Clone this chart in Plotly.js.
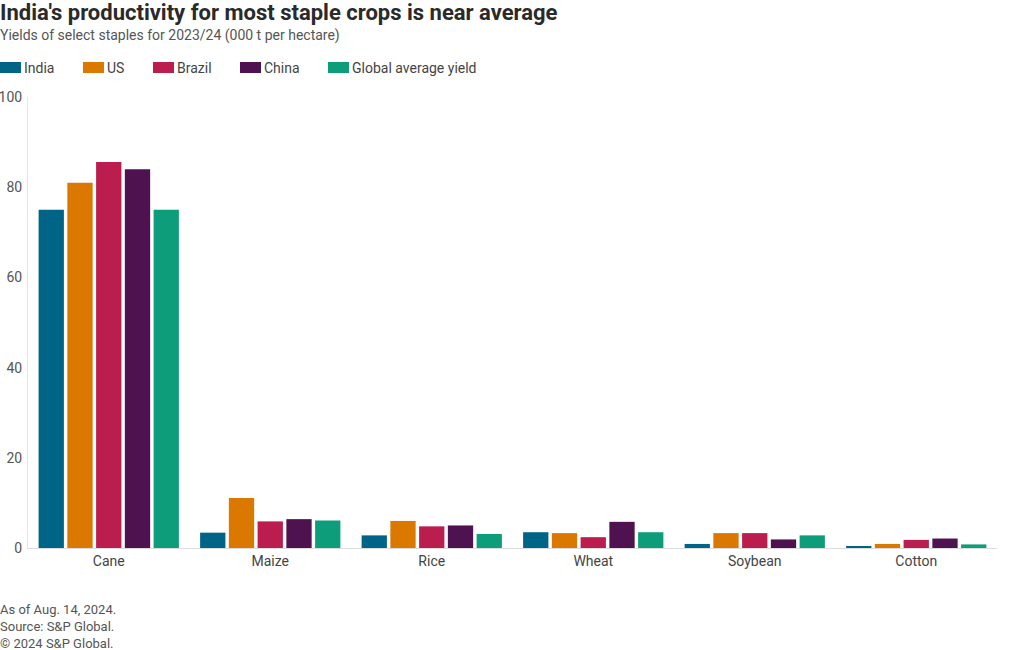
<!DOCTYPE html>
<html>
<head>
<meta charset="utf-8">
<script src="https://cdn.plot.ly/plotly-3.0.1.min.js"></script>
<style>html,body{margin:0;padding:0;background:#fff;}#chart{width:1020px;height:650px;}</style>
</head>
<body>
<div id="chart"></div>
<script>
const crops = ["Cane", "Maize", "Rice", "Wheat", "Soybean", "Cotton"];
const india = [75, 3.4, 2.8, 3.5, 0.9, 0.4];
const us = [81, 11.1, 6.0, 3.3, 3.3, 0.9];
const brazil = [85.6, 5.9, 4.8, 2.4, 3.3, 1.8];
const china = [84.0, 6.4, 5.0, 5.8, 1.9, 2.1];
const globalAvg = [75, 6.1, 3.1, 3.5, 2.8, 0.8];
const seriesNames = ["India", "US", "Brazil", "China", "Global average yield"];
const yTicks = [0, 20, 40, 60, 80, 100];

const colors = ["#006486", "#db7800", "#bb1d4e", "#4f1250", "#0e9d7a"];
const seriesData = [india, us, brazil, china, globalAvg];

const traces = seriesData.map((vals, i) => ({
  type: "bar",
  name: seriesNames[i],
  x: crops,
  y: vals,
  marker: {color: colors[i], line: {width: 0}},
  hoverinfo: "x+y+name",
  showlegend: false
}));

const font = "Roboto, 'Liberation Sans', sans-serif";
const ML = 28, MT = 97, PW = 969, PH = 451;
const px2x = p => (p - ML) / PW;
const px2y = p => (MT + PH - p) / PH;

// custom legend layout (pixel positions of each swatch's left edge)
const legendSwatchLeft = [0, 83, 153, 240, 328];
const legendY = 67.5;

const legendShapes = seriesNames.map((n, i) => ({
  type: "rect", xref: "paper", yref: "paper",
  x0: px2x(legendSwatchLeft[i]), x1: px2x(legendSwatchLeft[i] + 21),
  y0: px2y(legendY - 5.5), y1: px2y(legendY + 5.5),
  fillcolor: colors[i], line: {width: 0}
}));
const legendLabels = seriesNames.map((n, i) => ({
  text: n, xref: "paper", yref: "paper",
  x: px2x(legendSwatchLeft[i] + 22), xanchor: "left",
  y: px2y(legendY), yanchor: "middle",
  showarrow: false,
  font: {family: font, size: 14, color: "#444"}
}));

const layout = {
  width: 1020,
  height: 650,
  margin: {l: ML, r: 23, t: MT, b: 102},
  paper_bgcolor: "#fff",
  plot_bgcolor: "#fff",
  font: {family: font, color: "#444", size: 14},
  barmode: "group",
  bargap: 0.11,
  bargroupgap: 0.12,
  showlegend: false,
  title: {
    text: "<b>India's productivity for most staple crops is near average</b>",
    font: {family: font, size: 22, color: "#2a2a2a"},
    xref: "container", yref: "container",
    x: 0, xanchor: "left",
    y: 1 - 12/650, yanchor: "middle",
    pad: {l: 0}
  },
  shapes: legendShapes,
  annotations: [
    {
      text: "Yields of select staples for 2023/24 (000 t per hectare)",
      xref: "paper", yref: "paper",
      x: px2x(-2), xanchor: "left",
      y: px2y(35), yanchor: "middle",
      showarrow: false,
      font: {family: font, size: 14, color: "#555"}
    },
    {
      text: "As of Aug. 14, 2024.<br>Source: S&P Global.<br>© 2024 S&P Global.",
      xref: "paper", yref: "paper",
      x: px2x(-2), xanchor: "left",
      y: px2y(600), yanchor: "top",
      align: "left",
      showarrow: false,
      font: {family: font, size: 13, color: "#555"}
    }
  ].concat(legendLabels),
  xaxis: {
    type: "category",
    automargin: false,
    showgrid: false,
    showline: true,
    linecolor: "#ddd",
    linewidth: 1,
    ticks: "",
    tickfont: {family: font, size: 14, color: "#444"},
    zeroline: false,
    fixedrange: true
  },
  yaxis: {
    range: [0, 100],
    automargin: false,
    tickvals: yTicks,
    ticktext: yTicks.map(String),
    showgrid: false,
    showline: true,
    linecolor: "#e6e6e6",
    linewidth: 1,
    zeroline: false,
    ticks: "",
    ticklabelstandoff: 2,
    tickfont: {family: font, size: 14, color: "#555"},
    fixedrange: true
  }
};

Plotly.newPlot("chart", traces, layout, {displayModeBar: false});
</script>
</body>
</html>
